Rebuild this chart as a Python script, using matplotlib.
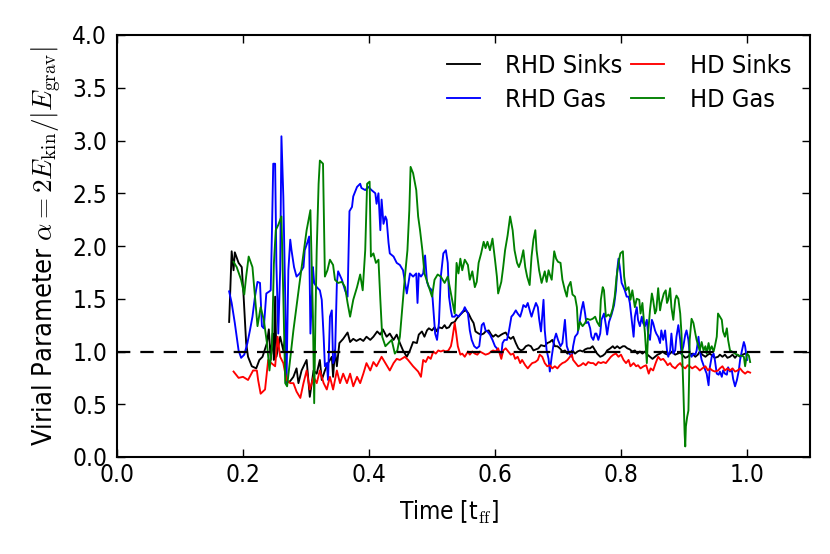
import matplotlib
matplotlib.use("Agg")
import matplotlib.pyplot as plt

# ---------------- data ----------------
rhd_sinks_t = [0.178,0.182,0.185,0.187,0.193,0.198,0.201,0.205,0.208,0.214,0.221,0.226,0.231,0.238,0.241,0.244,0.247,0.249,0.251,0.253,0.259,0.264,0.267,0.269,0.275,0.280,0.285,
               0.288,0.293,0.301,0.306,0.312,0.317,0.322,0.325,0.330,0.335,0.341,0.343,0.346,0.349,0.353,0.359,0.366,0.370,0.375,0.380,0.386,0.391,0.396,0.402,0.407,0.413,0.418,0.422,0.428,0.433,0.439,0.444,0.449,0.454,0.460,0.465,0.470,
               0.476,0.479,0.484,0.488,0.492,0.495,0.500,0.504,0.508,0.511,0.516,0.520,0.523,0.527,0.531,0.536,0.539,0.545,0.550,0.554,0.558,0.562,0.566,0.569,0.574,0.578,0.582,0.585,0.590,0.594,0.597,0.601,0.605,0.610,0.613,0.617,0.621,0.625,0.629,0.633,0.637,0.641,0.645,0.649,0.653,0.657,0.661,0.665,0.669,0.673,
               0.679,0.683,0.687,0.691,0.695,0.699,0.703,0.707,0.711,0.715,0.719,0.723,0.727,0.731,0.735,0.739,0.743,0.747,0.751,0.755,0.759,0.762,0.767,0.771,0.775,0.778,0.783,0.787,0.790,0.794,0.798,0.803,0.806,0.810,0.814,0.818,0.822,0.826,0.830,0.834,0.838,0.842,0.846,0.850,0.854,0.858,0.862,0.866,0.870,
               0.874,0.878,0.881,0.886,0.890,0.894,0.897,0.902,0.906,0.909,0.913,0.918,0.922,0.925,0.929,0.934,0.938,0.941,0.945,0.949,0.954,0.957,0.961,0.965,0.969,0.973,0.977,0.981,0.985,0.989,0.993,0.997]
rhd_sinks_alpha = [1.28,1.95,1.77,1.94,1.84,1.80,1.52,1.08,0.95,0.86,0.84,0.92,0.95,1.08,1.21,0.92,1.17,0.92,1.52,0.95,1.14,1.01,1.14,0.70,0.72,0.76,0.84,
                   0.70,0.82,0.92,0.57,0.82,0.79,0.92,0.73,0.82,0.89,0.95,0.76,1.01,0.86,1.08,1.12,1.18,1.09,1.12,1.10,1.12,1.10,1.14,1.11,1.14,1.19,1.16,1.21,1.14,1.17,1.11,1.16,1.08,1.01,0.95,1.01,1.09,
                   1.08,1.16,1.19,1.14,1.20,1.22,1.20,1.23,1.19,1.23,1.22,1.25,1.22,1.23,1.27,1.28,1.31,1.35,1.38,1.39,1.36,1.31,1.27,1.19,1.17,1.16,1.17,1.19,1.20,1.16,1.14,1.16,1.14,1.16,1.17,1.18,1.14,1.12,1.14,1.08,1.03,1.01,1.02,1.05,1.06,1.05,1.01,1.02,1.03,1.06,
                   1.05,1.08,1.09,1.11,1.05,1.05,1.03,1.00,1.01,0.98,0.99,1.01,0.98,1.00,1.01,1.00,1.02,1.03,1.03,1.05,1.01,0.98,0.95,0.96,0.98,1.01,1.03,1.05,1.03,1.05,1.03,1.05,1.05,1.03,1.02,1.00,1.01,0.98,1.00,0.98,1.00,0.97,0.95,0.93,0.95,0.97,0.98,1.00,0.98,
                   0.97,0.98,1.00,0.97,0.98,0.99,0.97,0.94,0.95,0.97,0.98,0.95,0.97,1.00,0.97,0.95,0.97,0.98,0.96,0.94,0.95,0.97,0.95,0.97,0.94,0.95,0.97,0.94,0.97,0.95,0.97,0.98]

rhd_gas_t = [0.178,0.182,0.187,0.193,0.197,0.202,0.207,0.211,0.215,0.219,0.223,0.227,0.230,0.233,0.237,0.242,0.244,0.246,0.248,0.251,0.253,0.256,0.259,0.261,0.264,0.267,0.269,0.272,
             0.275,0.277,0.281,0.285,0.290,0.296,0.298,0.302,0.305,0.307,0.311,0.313,0.317,0.322,0.325,0.328,0.330,0.333,0.335,0.338,0.341,0.343,0.346,0.349,0.351,0.357,0.362,0.366,0.369,0.373,0.375,0.381,0.386,0.388,0.394,0.399,0.404,0.410,0.412,0.415,0.418,0.420,0.423,0.426,0.428,0.431,0.433,0.439,0.444,0.449,0.454,0.460,0.465,0.470,0.475,0.477,
             0.479,0.4825,0.486,0.489,0.492,0.495,0.500,0.502,0.505,0.508,0.511,0.514,0.518,0.522,0.525,0.527,0.530,0.532,0.536,0.538,0.542,0.546,0.550,0.552,0.557,0.560,0.563,0.567,0.571,0.575,0.579,0.582,0.585,0.588,0.592,0.596,0.600,0.603,0.605,0.610,0.612,0.615,0.619,0.622,0.626,0.629,0.633,0.636,0.640,0.643,0.645,0.649,0.652,0.656,0.658,0.661,0.665,0.668,0.670,0.673,0.677,
             0.679,0.682,0.685,0.687,0.690,0.694,0.697,0.700,0.704,0.707,0.711,0.714,0.718,0.722,0.724,0.727,0.731,0.734,0.737,0.740,0.743,0.745,0.748,0.751,0.753,0.756,0.759,0.761,0.764,0.767,0.769,0.773,0.776,0.778,0.781,0.785,0.789,0.792,0.794,0.796,0.798,0.801,0.804,0.806,0.809,0.812,0.814,0.817,0.820,0.822,0.825,0.827,0.830,0.833,0.835,0.838,0.841,0.843,0.846,0.849,0.851,0.854,0.856,0.859,0.862,0.864,0.867,0.870,
             0.873,0.875,0.878,0.880,0.883,0.886,0.888,0.891,0.894,0.896,0.899,0.902,0.904,0.907,0.909,0.912,0.915,0.918,0.920,0.923,0.925,0.928,0.931,0.934,0.936,0.939,0.941,0.944,0.947,0.949,0.952,0.955,0.957,0.960,0.962,0.965,0.968,0.970,0.973,0.976,0.978,0.981,0.984,0.987,0.989,0.992,0.995,0.997,1.000]
rhd_gas_alpha = [1.57,1.46,1.27,1.01,0.94,0.97,1.08,1.20,1.33,1.52,1.66,1.65,1.24,1.22,1.55,1.57,1.58,2.15,2.78,2.78,1.83,1.17,1.77,3.04,2.47,1.52,0.70,1.77,
                 2.06,1.96,1.80,1.71,1.74,1.80,1.96,2.03,2.09,1.17,1.80,1.65,1.61,1.58,1.49,1.14,0.86,0.89,0.73,1.33,1.39,0.89,0.95,1.65,1.76,1.68,1.58,1.52,2.33,2.37,2.47,2.56,2.59,2.55,2.53,2.56,2.53,2.50,2.40,2.50,2.15,2.44,2.21,2.28,2.25,2.03,1.93,1.90,1.84,1.82,1.77,1.55,1.74,1.71,1.74,1.46,
                 1.74,1.71,1.74,1.91,1.66,1.61,1.58,1.42,1.17,1.11,1.27,1.71,1.93,1.96,1.84,1.52,1.39,1.33,1.33,1.35,1.33,1.36,1.39,1.42,1.36,1.20,1.11,1.05,1.03,1.05,1.25,1.27,1.20,1.19,1.16,1.11,1.05,1.03,1.01,0.97,1.08,1.11,1.11,1.19,1.33,1.35,1.39,1.36,1.33,1.39,1.44,1.42,1.46,1.37,1.33,1.39,1.46,1.42,1.31,1.19,1.49,
                 1.20,1.01,0.93,0.81,0.95,1.11,1.17,1.11,1.05,1.08,1.30,1.05,0.98,0.95,1.05,1.14,1.17,1.27,1.39,1.47,1.36,1.27,1.28,1.22,1.14,1.11,1.17,1.17,1.11,1.17,1.30,1.36,1.25,1.16,1.28,1.35,1.44,1.58,1.77,1.88,1.80,1.65,1.61,1.58,1.52,1.52,1.46,1.30,1.14,1.33,1.42,1.30,1.24,1.33,1.27,1.24,1.30,1.17,1.11,1.30,1.27,1.20,1.17,1.14,1.08,1.20,1.11,1.20,
                 1.01,0.95,1.01,1.17,0.98,1.01,1.14,1.25,1.11,0.98,1.05,1.16,1.20,1.11,0.98,0.95,0.98,0.97,1.01,1.14,1.01,0.92,0.87,0.82,0.79,0.68,0.85,0.95,0.98,0.92,0.79,0.78,0.81,0.76,0.82,0.79,0.78,0.85,0.81,0.82,0.74,0.67,0.73,0.82,0.92,1.01,1.09,1.05,0.92]

hd_sinks_t = [0.185,0.193,0.200,0.208,0.216,0.222,0.224,0.228,0.235,0.240,0.245,0.251,0.255,0.259,0.264,0.269,0.275,0.280,0.285,0.291,
              0.296,0.301,0.306,0.312,0.317,0.322,0.328,0.333,0.338,0.343,0.349,0.354,0.359,0.365,0.370,0.375,0.381,0.386,0.391,0.396,0.402,0.407,0.412,0.420,0.426,0.433,0.439,0.444,0.449,0.457,0.462,0.470,0.478,
              0.4825,0.486,0.490,0.494,0.498,0.502,0.506,0.510,0.514,0.518,0.522,0.526,0.530,0.532,0.536,0.538,0.541,0.545,0.548,0.552,0.557,0.560,0.564,0.568,0.572,0.576,0.582,0.585,0.590,0.594,0.597,0.601,0.605,0.610,0.613,0.617,0.621,0.625,0.629,0.632,0.636,0.640,0.643,0.648,0.652,0.656,0.659,0.664,0.668,0.671,0.675,
              0.679,0.683,0.687,0.691,0.695,0.699,0.703,0.707,0.711,0.715,0.719,0.722,0.724,0.728,0.732,0.736,0.740,0.744,0.748,0.752,0.756,0.760,0.764,0.768,0.772,0.776,0.780,0.784,0.788,0.792,0.796,0.800,0.804,0.808,0.812,0.815,0.820,0.824,0.827,0.831,0.836,0.840,0.844,0.847,0.851,0.855,0.859,0.863,0.867,0.871,
              0.874,0.878,0.881,0.886,0.890,0.894,0.897,0.902,0.906,0.909,0.913,0.918,0.922,0.925,0.929,0.934,0.938,0.941,0.945,0.949,0.954,0.957,0.961,0.965,0.969,0.973,0.977,0.981,0.985,0.989,0.993,0.997,1.001,1.005]
hd_sinks_alpha = [0.81,0.75,0.76,0.73,0.82,0.82,0.73,0.60,0.64,0.92,0.89,0.86,1.14,0.95,0.89,0.73,0.70,0.70,0.62,0.56,
                  0.70,0.82,0.64,0.76,0.70,0.82,0.70,0.64,0.76,0.64,0.82,0.70,0.79,0.70,0.79,0.67,0.76,0.70,0.79,0.89,0.82,0.90,0.86,0.95,0.89,0.82,0.89,0.93,0.92,0.95,0.92,0.86,0.81,
                  0.76,0.92,0.90,0.95,0.93,1.00,0.98,1.01,1.00,1.01,1.00,1.01,1.05,1.11,1.27,1.19,1.05,0.97,0.98,0.95,1.00,0.97,1.00,0.98,0.97,1.00,0.98,0.97,0.98,1.00,1.01,1.00,1.03,0.93,1.01,1.03,1.00,0.97,0.98,0.93,0.95,0.89,0.92,0.87,0.84,0.87,0.89,0.90,0.92,0.97,0.95,
                  0.89,0.86,0.87,0.84,0.86,0.84,0.87,0.89,0.90,0.92,0.95,0.97,0.92,0.89,0.86,0.87,0.89,0.87,0.90,0.89,0.89,0.87,0.90,0.89,0.90,0.89,0.92,0.95,0.97,0.98,0.95,0.97,0.92,0.89,0.92,0.86,0.89,0.86,0.87,0.84,0.86,0.87,0.79,0.84,0.82,0.89,0.95,0.92,0.93,0.90,
                  0.87,0.89,0.86,0.84,0.87,0.89,0.86,0.84,0.87,0.86,0.84,0.86,0.84,0.82,0.84,0.86,0.82,0.84,0.82,0.81,0.82,0.84,0.86,0.82,0.84,0.82,0.84,0.81,0.82,0.84,0.81,0.79,0.81,0.80]

hd_gas_t = [0.185,0.190,0.197,0.202,0.205,0.209,0.215,0.219,0.223,0.228,0.233,0.238,0.242,0.246,0.249,0.252,0.256,0.261,0.264,0.267,0.270,0.280,0.290,0.301,0.307,0.311,0.313,0.315,0.317,0.320,0.322,0.327,0.330,0.334,0.338,0.343,0.346,0.351,0.357,0.362,0.366,0.370,0.375,0.381,0.386,0.390,0.394,0.397,0.401,0.403,0.407,0.411,0.415,0.418,0.421,0.426,0.431,0.436,0.441,0.445,0.449,0.453,0.457,0.461,0.464,0.466,0.470,0.475,0.478,0.481,
            0.4847,0.488,0.493,0.500,0.504,0.509,0.514,0.520,0.525,0.529,0.531,0.536,0.539,0.542,0.545,0.548,0.552,0.557,0.560,0.564,0.568,0.571,0.574,0.578,0.582,0.585,0.588,0.592,0.596,0.600,0.603,0.605,0.610,0.613,0.616,0.620,0.624,0.628,0.631,0.635,0.638,0.641,0.645,0.648,0.651,0.655,0.658,0.661,0.664,0.666,0.670,0.674,
            0.679,0.682,0.685,0.687,0.690,0.694,0.697,0.700,0.704,0.707,0.711,0.714,0.716,0.720,0.723,0.727,0.730,0.732,0.735,0.739,0.743,0.746,0.751,0.755,0.759,0.762,0.766,0.768,0.771,0.773,0.776,0.780,0.783,0.787,0.790,0.793,0.797,0.799,0.803,0.805,0.808,0.812,0.815,0.818,0.822,0.825,0.829,0.831,0.834,0.838,0.841,0.843,0.846,0.849,0.851,0.854,0.856,0.859,0.862,0.864,0.868,0.871,
            0.873,0.875,0.878,0.880,0.883,0.886,0.888,0.891,0.894,0.896,0.899,0.901,0.902,0.903,0.905,0.907,0.908,0.909,0.912,0.915,0.918,0.920,0.923,0.925,0.928,0.931,0.934,0.936,0.939,0.941,0.944,0.947,0.949,0.952,0.954,0.957,0.960,0.962,0.965,0.968,0.970,0.973,0.976,0.981,0.987,0.992,0.995,0.997,1.000,1.003,1.005]
hd_gas_alpha = [1.85,1.80,1.68,1.54,1.71,1.90,1.80,1.52,1.24,1.42,1.30,1.08,0.82,1.05,1.83,2.15,2.20,2.28,1.52,0.70,0.67,1.20,1.66,2.15,2.34,1.33,0.51,1.33,1.96,2.59,2.81,2.78,1.71,1.77,1.87,1.82,1.68,1.65,1.66,1.61,1.46,1.33,1.49,1.61,1.73,1.58,1.96,2.59,2.61,1.90,1.93,1.84,1.87,1.49,1.14,1.05,1.08,1.11,0.98,1.01,1.14,1.42,1.71,1.96,2.34,2.75,2.69,2.53,2.28,2.15,
                1.96,1.74,1.65,1.52,1.68,1.73,1.71,1.65,1.71,1.58,1.52,1.36,1.84,1.74,1.88,1.77,1.87,1.82,1.68,1.76,1.61,1.66,1.84,1.93,2.04,1.98,2.04,1.96,2.07,1.87,1.71,1.55,1.66,1.80,1.96,2.10,2.28,2.15,1.96,1.84,1.80,1.85,1.96,1.80,1.71,1.63,1.90,2.06,2.15,1.96,1.77,1.65,
                1.76,1.66,1.77,1.73,1.68,1.95,1.88,1.85,1.84,1.68,1.58,1.52,1.61,1.66,1.54,1.52,1.42,1.20,1.28,1.24,1.27,1.31,1.30,1.31,1.33,1.28,1.24,1.49,1.61,1.58,1.33,1.35,1.33,1.41,1.52,1.71,1.87,1.93,1.95,1.71,1.58,1.61,1.49,1.58,1.42,1.50,1.49,1.36,1.46,1.17,0.89,1.17,1.39,1.55,1.49,1.36,1.39,1.60,1.39,1.46,1.55,1.58,
                1.46,1.49,1.60,1.42,1.30,1.49,1.53,1.50,1.36,1.17,0.63,0.22,0.10,0.29,0.38,0.44,0.73,1.11,1.31,1.27,1.17,1.11,1.05,1.01,1.09,1.01,1.05,0.98,1.08,1.01,1.05,1.00,1.05,1.14,1.36,1.33,1.30,1.19,1.14,1.22,1.11,1.01,1.00,0.98,0.96,0.96,0.95,0.86,0.98,0.96,0.90]

series_labels = ["RHD Sinks", "RHD Gas", "HD Sinks", "HD Gas"]
x_ticks = [0.0, 0.2, 0.4, 0.6, 0.8, 1.0]
y_ticks = [0.0, 0.5, 1.0, 1.5, 2.0, 2.5, 3.0, 3.5, 4.0]

# ---------------- styling ----------------
plt.rcParams['font.family'] = ['DejaVu Sans']
plt.rcParams['font.stretch'] = 'condensed'
plt.rcParams['mathtext.fontset'] = 'cm'

fig = plt.figure(figsize=(8.3, 5.54), dpi=100)
ax = fig.add_axes([117/830, 1-457/554, (810-117)/830, (457-35)/554])

ax.plot(rhd_sinks_t, rhd_sinks_alpha, color='k', lw=1.35, label=series_labels[0])
ax.plot(rhd_gas_t, rhd_gas_alpha, color='b', lw=1.35, label=series_labels[1])
ax.plot(hd_sinks_t, hd_sinks_alpha, color='r', lw=1.35, label=series_labels[2])
ax.plot(hd_gas_t, hd_gas_alpha, color=(0, 0.5, 0), lw=1.35, label=series_labels[3])
ax.axhline(1.0, color='k', lw=1.6, ls=(0, (6, 4.5)))

ax.set_xlim(0, 1.1)
ax.set_ylim(0, 4.0)
ax.set_xticks(x_ticks)
ax.set_yticks(y_ticks)
ax.set_xticklabels([f"{v:.1f}" for v in x_ticks])
ax.set_yticklabels([f"{v:.1f}" for v in y_ticks])
ax.tick_params(direction='in', top=True, right=True, length=6, width=1, labelsize=17.5)
ax.tick_params(axis='x', pad=4)
ax.tick_params(axis='y', pad=7)
for s in ax.spines.values():
    s.set_linewidth(1.5)

ax.set_xlabel(r"Time [t$_{\rm ff}$]", fontsize=17.5)
ax.xaxis.set_label_coords((449 - 117) / 693, -0.10)
ax.set_ylabel(r"Virial Parameter $\alpha = 2E_{\rm kin}/|E_{\rm grav}|$", fontsize=19.5, labelpad=6)

ax.legend(loc='upper right', ncol=2, frameon=False, fontsize=18.2,
          handlelength=1.3, handletextpad=1.0, columnspacing=0.35,
          labelspacing=0.38, borderpad=0.4, borderaxespad=0.35)

fig.savefig("out.png", dpi=100)
